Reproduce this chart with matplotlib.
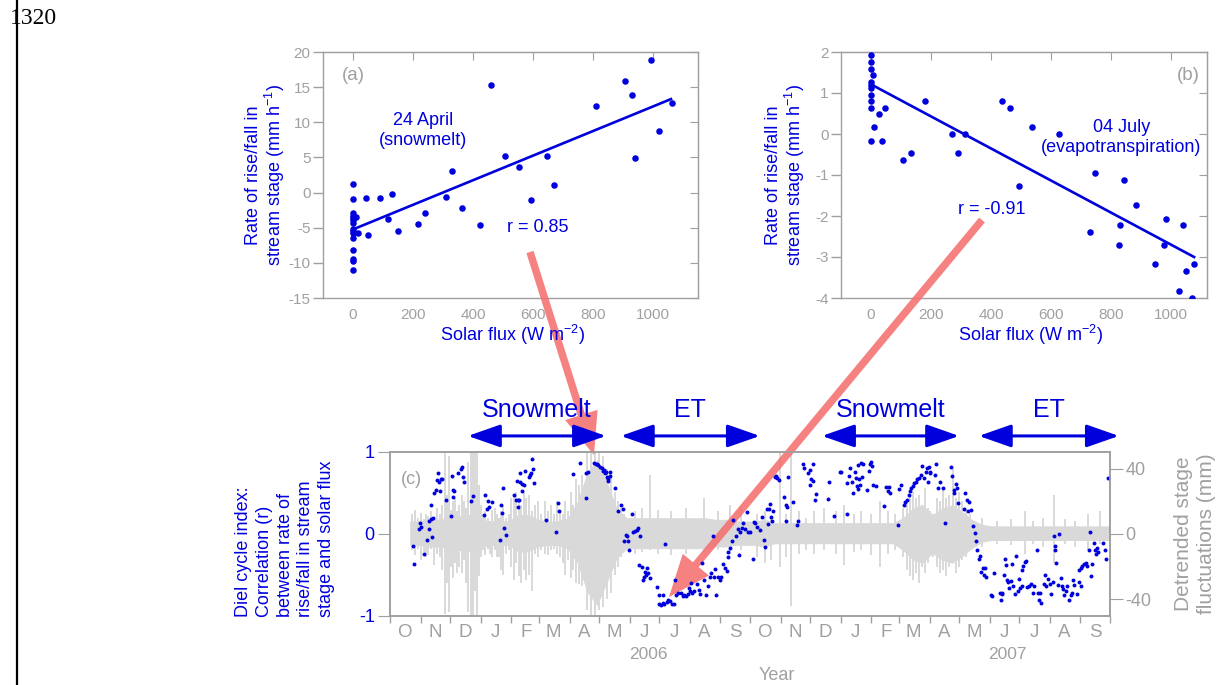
import numpy as np
import pandas as pd
import matplotlib.pyplot as plt
import matplotlib.dates as mdates
from matplotlib.patches import FancyArrow
from matplotlib.ticker import FuncFormatter

plt.rcParams['font.family'] = ['Liberation Sans', 'DejaVu Sans']
plt.rcParams['axes.unicode_minus'] = False
plt.rcParams['mathtext.fontset'] = 'custom'
plt.rcParams['mathtext.rm'] = 'Liberation Sans'
plt.rcParams['mathtext.it'] = 'Liberation Sans:italic'

BLUE = '#0000dd'
GRAY = '#a0a0a0'
FILL = '#d9d9d9'
RED = (0.96, 0.42, 0.42)

# (a) 24 April, snowmelt
flux_a = [0, 0, 0, 0, 0, 0, 0, 0, 0, 0, 0, 0, 0, 0, 0, 9, 17,
          42, 91, 131, 118, 150, 50, 217, 240, 309, 331, 363, 422, 459,
          508, 552, 593, 647, 671, 809, 907, 930, 993, 939, 1019, 1063]
rate_a = [1.2, -0.95, -2.9, -3.4, -3.9, -4.35, -5.2, -5.8, -6.5, -8.2,
          -9.5, -9.8, -11.0, -3.6, -5.5, -3.5, -5.7,
          -0.75, -0.75, -0.15, -3.8, -5.5, -6.0, -4.45, -2.85, -0.6, 3.1,
          -2.2, -4.6, 15.3, 5.25, 3.7, -1.1, 5.25, 1.1, 12.3, 15.84, 13.9,
          18.8, 4.96, 8.8, 12.77]
fit_a_x = [8, 1060]
fit_a_y = [-5.1, 13.3]

# (b) 04 July, evapotranspiration
flux_b = [0, 0, 0, 0, 0, 0, 0, 0, 0, 0, 8, 10, 28, 46, 37, 108, 134, 181,
          269, 290, 313, 437, 462, 494, 536, 628, 747, 730, 829, 827, 843,
          883, 982, 1039, 978, 948, 1077, 1049, 1027, 1069]
rate_b = [1.92, 1.76, 1.59, 1.27, 1.11, 0.96, 0.80, 0.64, -0.16, 1.2, 1.43,
          0.17, 0.48, 0.64, -0.16, -0.64, -0.47, 0.80, 0.0, -0.47, 0.0,
          0.80, 0.64, -1.27, 0.17, 0.0, -0.96, -2.39, -2.22, -2.70, -1.11,
          -1.74, -2.07, -2.22, -2.70, -3.18, -3.18, -3.34, -3.83, -3.99]
fit_b_x = [8, 1077]
fit_b_y = [1.18, -3.0]

# (c) diel cycle index, days after 1 Oct 2005
start = pd.Timestamp('2005-10-01')
cycle_day = [
    23, 24, 29, 30, 31, 34, 38, 40, 40, 42, 44, 42, 43, 45, 47, 48, 49, 50,
    52, 51, 53, 57, 62, 63, 64, 64, 65, 69, 72, 73, 74, 75, 82, 84, 95, 96,
    98, 99, 100, 103, 112, 113, 114, 115, 116, 118, 126, 128, 129, 130, 130,
    131, 132, 134, 134, 136, 132, 137, 141, 142, 143, 145, 144, 146, 158,
    168, 170, 171, 186,
    193, 199, 199, 201, 207, 209, 210, 211, 213, 215, 216, 217, 218, 219,
    220, 221, 223, 223, 221, 228, 231, 234, 236, 237, 239, 240, 242, 241,
    245, 246, 248, 250, 251, 253, 252, 256, 261, 259, 260, 258, 262, 264,
    257, 279, 271, 273, 277, 273, 275, 277, 278, 281, 282, 284, 286, 288,
    289, 290, 292, 295, 297, 298, 300, 302, 303, 304, 306, 308, 305, 311,
    313, 314, 316, 318, 320, 322, 324, 325, 327, 328, 330, 331, 333, 335,
    336, 338, 340, 342, 343, 343, 345, 347, 348, 351, 353, 354, 355, 357,
    358, 360, 362, 363, 365, 368, 369,
    377, 379, 380, 382, 384, 385, 386, 387, 388, 383, 375, 372, 370, 390,
    391, 392, 394, 399, 401, 403, 401, 404, 409, 413, 414, 419, 420, 424,
    426, 429, 427, 429, 426, 432, 431, 444, 445, 450, 456, 457, 463, 463,
    465, 466, 468, 469, 471, 472, 473, 474, 475, 476, 477, 478, 480, 479,
    484, 486, 487, 488, 489, 490, 493, 501, 503, 505, 506, 507, 515, 516,
    518, 521, 522, 524, 526, 527, 528, 530, 531, 533, 534, 536, 538, 539,
    541, 543, 544, 546, 545, 548,
    548, 554, 553, 558, 556, 561, 563, 569, 570, 574, 572, 575, 572, 576,
    583, 585, 587, 582, 586, 589, 591, 593, 594, 595, 597, 598, 599, 601,
    603, 602, 604, 612, 609, 610, 618, 620, 621, 619, 623, 624, 625, 626,
    627, 628, 630, 631, 632, 634, 635, 637, 638, 639, 641, 642, 644, 645,
    641, 646, 648, 650, 652, 653, 656, 657, 659, 658, 660, 663, 664, 665,
    667, 669, 670, 672, 673, 674, 674, 675, 678, 677, 680, 681, 682, 683,
    685, 686, 688, 690, 691, 692, 693, 697, 699, 701, 699, 701, 702, 704,
    706, 707, 709, 710, 711, 712, 714, 715, 716, 717, 718, 723, 725, 726,
    728]
cycle_r = [
    -0.15, -0.36, 0.06, 0.14, 0.08, -0.24, -0.07, 0.06, 0.16, 0.18, 0.20,
    0.35, -0.04, 0.50, 0.54, 0.66, 0.74, 0.63, 0.67, 0.52, 0.67, 0.41, 0.22,
    0.71, 0.45, 0.54, 0.52, 0.74, 0.79, 0.82, 0.70, 0.64, 0.40, 0.46, 0.23,
    0.47, 0.31, 0.40, 0.33, 0.39, -0.07, 0.35, 0.26, 0.56, 0.07, -0.01, 0.48,
    0.41, 0.65, 0.41, 0.33, 0.41, 0.63, 0.52, 0.61, 0.60, 0.75, 0.77, 0.70,
    0.72, 0.75, 0.79, 0.92, 0.62, 0.17, 0.02, 0.38, 0.28, 0.73,
    0.86, 0.44, 0.75, 0.76, 0.86, 0.85, 0.85, 0.84, 0.82, 0.80, 0.77, 0.78,
    0.74, 0.76, 0.70, 0.67, 0.76, 0.71, 0.65, 0.56, 0.28, 0.35, 0.30, -0.09,
    -0.01, -0.02, -0.20, -0.09, 0.24, 0.02, 0.04, 0.05, 0.07, -0.03, -0.38,
    -0.40, -0.41, -0.46, -0.50, -0.52, -0.47, -0.54, -0.56, -0.12, -0.65,
    -0.74, -0.74, -0.85, -0.87, -0.84, -0.85, -0.83, -0.80, -0.82, -0.85,
    -0.85, -0.56, -0.74, -0.72, -0.72, -0.76, -0.74, -0.76, -0.73, -0.66,
    -0.70, -0.72, -0.70, -0.60, -0.61, -0.68, -0.73, -0.35, -0.56, -0.74,
    -0.64, -0.53, -0.48, -0.03, -0.53, -0.43, -0.74, -0.53, -0.56, -0.53,
    -0.36, -0.41, -0.45, -0.28, -0.22, -0.17, -0.09, 0.17, -0.02, 0.06,
    -0.26, 0.02, 0.07, 0.13, 0.06, 0.27, 0.02, 0.03, -0.30, 0.15,
    0.21, -0.07, -0.16, 0.30, 0.31, 0.37, 0.21, 0.16, 0.28, 0.12, 0.05, 0.08,
    0.13, 0.70, 0.71, 0.68, 0.66, 0.45, 0.35, 0.33, 0.16, 0.70, 0.39, 0.11,
    0.16, 0.85, 0.80, 0.74, 0.78, 0.85, 0.67, 0.65, 0.60, 0.49, 0.41, 0.43,
    0.63, 0.22, 0.76, 0.76, 0.24, 0.62, 0.71, 0.80, 0.64, 0.50, 0.76, 0.68,
    0.58, 0.55, 0.84, 0.67, 0.60, 0.86, 0.85, 0.70, 0.54, 0.77, 0.85, 0.88,
    0.83, 0.60, 0.58, 0.34, 0.57, 0.53, 0.57, 0.50, 0.11, 0.55, 0.60, 0.35,
    0.39, 0.42, 0.48, 0.52, 0.56, 0.59, 0.62, 0.63, 0.67, 0.68, 0.72, 0.83,
    0.68, 0.76, 0.80, 0.82, 0.64, 0.76,
    0.74, 0.85, 0.72, 0.63, 0.56, 0.56, 0.14, 0.82, 0.71, 0.61, 0.54, 0.56,
    0.50, 0.38, 0.50, 0.41, 0.39, 0.30, 0.28, 0.29, 0.10, 0.01, -0.08, -0.20,
    -0.31, -0.27, -0.46, -0.42, -0.41, -0.50, -0.53, -0.47, -0.74, -0.75,
    -0.72, -0.73, -0.72, -0.80, -0.50, -0.30, -0.38, -0.56, -0.59, -0.66,
    -0.57, -0.36, -0.64, -0.73, -0.27, -0.70, -0.55, -0.66, -0.44, -0.39,
    -0.34, -0.33, -0.64, -0.65, -0.63, -0.61, -0.72, -0.64, -0.19, -0.72,
    -0.72, -0.80, -0.84, -0.61, -0.50, -0.64, -0.55, -0.61, -0.73, -0.59,
    -0.03, -0.15, -0.20, -0.35, 0.00, -0.62, -0.54, -0.63, -0.67, -0.74,
    -0.70, -0.64, -0.81, -0.74, -0.72, -0.56, -0.62, -0.73, -0.59, -0.64,
    -0.44, -0.42, -0.39, -0.37, -0.35, -0.39, -0.19, 0.03, -0.51, -0.36,
    -0.11, -0.20, -0.24, -0.17, -0.22, -0.11, -0.19, -0.31, 0.68]

# detrended stage fluctuations (mm): core band every 10 days ...
env_day = list(range(20, 731, 10))
env_hi = [8, 8, 9, 9, 10, 11, 12, 10, 8, 8, 8, 12, 12, 9, 8, 8, 10,
          20, 38, 46, 32, 16, 10,
          10, 10, 10, 10, 10, 10, 10, 10, 9, 9, 8, 8, 8, 9,
          7, 7, 7, 7, 7, 7, 7, 7, 7, 7, 7, 7, 7,
          10, 16, 18, 12, 16, 18, 14, 9,
          6, 5, 5, 5, 5, 5, 5, 5, 5, 5, 5, 5, 5, 5]
env_lo = [-7, -7, -8, -8, -9, -10, -11, -9, -7, -7, -7, -11, -11, -8, -7, -7,
          -9, -18, -36, -44, -30, -15, -9,
          -9, -9, -9, -9, -9, -9, -9, -9, -8, -8, -7, -7, -7, -8,
          -6, -6, -6, -6, -6, -6, -6, -6, -6, -6, -6, -6, -6,
          -10, -16, -18, -12, -16, -18, -14, -9,
          -5, -4, -4, -4, -4, -4, -4, -4, -4, -4, -4, -4, -4, -4]
# ... and the individual excursions on top of it
spike_day = [22, 25, 28, 31, 34, 37, 39, 42, 45, 48, 51, 53, 56, 58, 60, 62,
             64, 66, 68, 70, 73, 75, 77, 79, 82, 84, 86, 88, 90, 92, 94, 96,
             99, 101, 103, 106, 108, 111, 113, 115, 118, 121, 123, 126, 128,
             131, 133, 136, 138, 141, 144, 147, 150, 153, 157, 160, 163, 166,
             169, 172, 175, 177, 180, 184, 186, 189, 192, 195,
             200, 204, 208, 212, 216, 220, 224, 228, 231, 234, 237,
             248, 255, 264, 272, 285, 300, 318, 333, 345, 356,
             372, 380, 386, 395, 401, 407, 415, 422,
             430, 440, 452, 460, 470, 478, 488, 497, 505, 512,
             520, 524, 527, 530, 533, 536, 539, 542, 545, 548, 551, 555, 558,
             561, 564, 567, 571, 574, 577, 580, 584, 588,
             600, 615, 630, 644, 652, 662, 673, 684, 695, 708, 720]
spike_lo = [-10, -13, -9, -16, -11, -14, -13, -9, -19, -12, -14, -22, -49,
            -30, -48, -20, -27, -18, -24, -20, -24, -16, -30, -48, -50, -50,
            -35, -50, -26, -14, -10, -13, -9, -12, -14, -10, -14, -14, -22,
            -25, -12, -10, -20, -28, -18, -26, -30, -22, -28, -25, -35, -12,
            -14, -10, -12, -13, -10, -9, -12, -14, -18, -25, -16, -27, -22,
            -30, -31, -32,
            -47, -50, -50, -47, -45, -40, -36, -25, -20, -14, -10,
            -12, -11, -10, -12, -13, -12, -11, -10, -12, -10,
            -14, -18, -16, -20, -14, -44, -12, -10,
            -12, -10, -12, -19, -11, -10, -13, -20, -12, -10,
            -14, -22, -26, -28, -24, -30, -20, -24, -18, -12, -14, -20, -24,
            -22, -26, -20, -18, -24, -20, -16, -14, -10,
            -8, -6, -7, -12, -6, -8, -18, -6, -8, -10, -6]
spike_hi = [12, 15, 10, 13, 9, 12, 11, 14, 10, 16, 12, 18, 50, 24, 48, 15,
            20, 22, 14, 18, 24, 20, 16, 44, 50, 50, 50, 50, 30, 18, 12, 14,
            10, 8, 15, 16, 12, 10, 14, 18, 10, 12, 22, 24, 26, 20, 18, 26,
            22, 24, 14, 18, 20, 12, 20, 14, 18, 12, 20, 14, 12, 20, 14, 26,
            18, 34, 30, 36,
            50, 50, 50, 50, 48, 40, 38, 26, 20, 16, 12,
            14, 16, 36, 15, 14, 16, 22, 14, 18, 16,
            12, 14, 10, 50, 12, 50, 14, 10,
            14, 16, 14, 18, 12, 14, 12, 20, 14, 12,
            16, 20, 24, 26, 22, 24, 18, 28, 16, 14, 12, 22, 20, 28, 22, 24,
            40, 22, 26, 20, 16, 12,
            10, 8, 9, 14, 8, 10, 24, 9, 8, 12, 14]

# seasons above panel (c)
season_names = ['Snowmelt', 'ET', 'Snowmelt', 'ET']
season_start = ['2005-12-19', '2006-05-23', '2006-12-13', '2007-05-21']
season_end = ['2006-05-08', '2006-10-11', '2007-05-01', '2007-10-10']
year_names = ['2006', '2007']
year_mid = ['2006-06-20', '2007-06-19']

W, H = 1217, 685
fig = plt.figure(figsize=(W / 100, H / 100), dpi=100)


def px_box(left, top, right, bottom):
    return [left / W, 1 - bottom / H, (right - left) / W, (bottom - top) / H]


def scatter_panel(rect, x, y, fx, fy, xlim, ylim, yticks):
    ax = fig.add_axes(rect)
    ax.scatter(x, y, s=22, color=BLUE, lw=0, zorder=3)
    ax.plot(fx, fy, color=BLUE, lw=1.9, zorder=2)
    ax.set_xlim(*xlim)
    ax.set_ylim(*ylim)
    ax.set_xticks([0, 200, 400, 600, 800, 1000])
    ax.set_yticks(yticks)
    for s in ax.spines.values():
        s.set_color(GRAY)
        s.set_linewidth(1.0)
    ax.tick_params(direction='out', color=GRAY, labelcolor=GRAY,
                   labelsize=11, width=1.0)
    ax.tick_params(axis='y', length=7, pad=2)
    ax.tick_params(axis='x', length=0, pad=7)
    top = ax.secondary_xaxis('top')
    top.set_xticks([0, 200, 400, 600, 800, 1000])
    top.tick_params(direction='in', length=6, color=GRAY, labeltop=False)
    top.spines['top'].set_color(GRAY)
    right = ax.secondary_yaxis('right')
    right.set_yticks(yticks)
    right.tick_params(direction='in', length=6, color=GRAY, labelright=False)
    right.spines['right'].set_color(GRAY)
    return ax


ax_a = scatter_panel(px_box(323, 52, 698, 298), flux_a, rate_a, fit_a_x,
                     fit_a_y, (-100, 1150), (-15, 20), range(-15, 21, 5))
ax_a.text(0, 16.6, '(a)', color=GRAY, fontsize=13.5, ha='center',
          va='center')
ax_a.text(233, 8.8, '24 April\n(snowmelt)', color=BLUE, fontsize=13,
          ha='center', va='center', linespacing=1.2)
ax_a.text(617, -5.0, 'r = 0.85', color=BLUE, fontsize=13, ha='center',
          va='center')

ax_b = scatter_panel(px_box(841, 52, 1207, 298), flux_b, rate_b, fit_b_x,
                     fit_b_y, (-100, 1120), (-4, 2), range(-4, 3))
ax_b.text(1057, 1.43, '(b)', color=GRAY, fontsize=13.5, ha='center',
          va='center')
ax_b.text(835, -0.08, '04 July\n(evapotranspiration)', color=BLUE,
          fontsize=13, ha='center', va='center', linespacing=1.2)
ax_b.text(402, -1.85, 'r = -0.91', color=BLUE, fontsize=13, ha='center',
          va='center')

for xc in (266, 786):
    fig.text(xc / W, 1 - 175 / H,
             'Rate of rise/fall in\nstream stage (mm h$^{-1}$)', color=BLUE,
             fontsize=13, rotation=90, ha='center', va='center',
             multialignment='center', linespacing=1.1)
for xc in (512, 1030):
    fig.text(xc / W, 1 - 335 / H, 'Solar flux (W m$^{-2}$)', color=BLUE,
             fontsize=13, ha='center', va='center')

# (c) time series
ax_c = fig.add_axes(px_box(390, 452, 1110, 616))
ax_s = ax_c.twinx()
ax_c.set_zorder(ax_s.get_zorder() + 1)
ax_c.patch.set_visible(False)

env_dates = start + pd.to_timedelta(env_day, unit='D')
ax_s.fill_between(env_dates, env_lo, env_hi, color=FILL, lw=0)
spike_dates = start + pd.to_timedelta(spike_day, unit='D')
ax_s.vlines(spike_dates, spike_lo, spike_hi, color=FILL, lw=1.4)
ax_s.set_ylim(-50.4, 50.4)
ax_s.set_yticks([-40, 0, 40])

cycle_dates = start + pd.to_timedelta(cycle_day, unit='D')
ax_c.scatter(cycle_dates, cycle_r, s=8, color=BLUE, lw=0)
ax_c.set_ylim(-1, 1)
ax_c.set_yticks([-1, 0, 1])
ax_c.set_xlim(start, pd.Timestamp('2007-10-01'))

ax_c.xaxis.set_major_locator(mdates.MonthLocator())
ax_c.xaxis.set_major_formatter(FuncFormatter(lambda v, p: ''))
ax_c.xaxis.set_minor_locator(mdates.MonthLocator(bymonthday=16))
ax_c.xaxis.set_minor_formatter(
    FuncFormatter(lambda v, p: mdates.num2date(v).strftime('%b')[0]))
ax_c.tick_params(axis='x', which='major', direction='out', length=5,
                 color=GRAY, width=1.0)
ax_c.tick_params(axis='x', which='minor', length=0, pad=6, labelsize=13.5,
                 labelcolor=GRAY)
ax_c.tick_params(axis='y', direction='out', length=9, color=GRAY,
                 labelcolor=BLUE, labelsize=13, pad=2)
ax_s.tick_params(axis='y', direction='out', length=9, color=GRAY,
                 labelcolor=GRAY, labelsize=13, pad=2)
for a in (ax_c, ax_s):
    for s in a.spines.values():
        s.set_color(GRAY)
        s.set_linewidth(1.2)

xtrans = ax_c.get_xaxis_transform()
ax_c.text(0.03, 0.83, '(c)', transform=ax_c.transAxes, color=GRAY,
          fontsize=13, ha='center', va='center')
for label, d in zip(year_names, year_mid):
    ax_c.text(mdates.date2num(pd.Timestamp(d)), -0.235, label, color=GRAY,
              fontsize=12.5, ha='center', va='center', transform=xtrans)
fig.text(777 / W, 1 - 675 / H, 'Year', color=GRAY, fontsize=13,
         ha='center', va='center')

for name, d0, d1 in zip(season_names, season_start, season_end):
    t0 = mdates.date2num(pd.Timestamp(d0))
    t1 = mdates.date2num(pd.Timestamp(d1))
    ax_c.annotate('', xy=(t1, 1.098), xytext=(t0, 1.098),
                  xycoords=xtrans, textcoords=xtrans,
                  annotation_clip=False,
                  arrowprops=dict(arrowstyle='<|-|>,head_length=1.0,head_width=0.35',
                                  color=BLUE, lw=2.2, mutation_scale=20,
                                  shrinkA=0, shrinkB=0))
    ax_c.text((t0 + t1) / 2, 1.256, name, color=BLUE, fontsize=18,
              ha='center', va='center', transform=xtrans)

fig.text(285 / W, 1 - 617 / H,
         'Diel cycle index:\nCorrelation (r)\nbetween rate of\n'
         'rise/fall in stream\nstage and solar flux',
         color=BLUE, fontsize=13, rotation=90, ha='center', va='bottom',
         multialignment='left', linespacing=1.27)
fig.text(1195 / W, 1 - 534 / H, 'Detrended stage\nfluctuations (mm)',
         color=GRAY, fontsize=15, rotation=90, ha='center', va='center',
         multialignment='center', linespacing=1.3)

# red pointers from the two example days to the index series
for tail, tip in [((530, 252), (594, 455)), ((982, 220), (669, 597))]:
    x0, y0 = tail[0] / 100, (H - tail[1]) / 100
    x1, y1 = tip[0] / 100, (H - tip[1]) / 100
    fig.add_artist(FancyArrow(x0, y0, x1 - x0, y1 - y0, width=0.075,
                              head_width=0.34, head_length=0.42,
                              length_includes_head=True, lw=0,
                              color=RED, alpha=0.85,
                              transform=fig.dpi_scale_trans))

# page margin
fig.add_artist(plt.Line2D([17 / W, 17 / W], [0, 1], color='black', lw=1.6))
fig.text(10 / W, 1 - 19 / H, '1320', family='Liberation Serif', fontsize=17,
         ha='left', va='center')

fig.savefig('out.png', dpi=100)
